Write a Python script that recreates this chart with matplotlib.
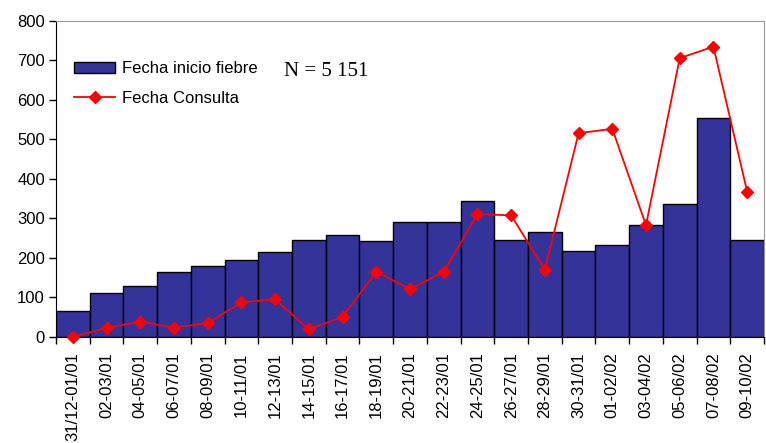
import matplotlib
matplotlib.use("Agg")
import matplotlib.pyplot as plt
import numpy as np

plt.rcParams['font.family'] = ['Liberation Sans', 'DejaVu Sans']

# periods (two-day groups)
periods = ['31/12-01/01', '02-03/01', '04-05/01', '06-07/01', '08-09/01',
           '10-11/01', '12-13/01', '14-15/01', '16-17/01', '18-19/01',
           '20-21/01', '22-23/01', '24-25/01', '26-27/01', '28-29/01',
           '30-31/01', '01-02/02', '03-04/02', '05-06/02', '07-08/02',
           '09-10/02']

# cases by date of fever onset
inicio_fiebre = [67, 112, 128, 165, 180, 194, 214, 246, 259, 242,
                 290, 290, 344, 246, 267, 218, 234, 283, 336, 555, 246]

# cases by date of consultation
consulta = [0, 23, 39, 24, 35, 88, 95, 19, 51, 165,
            121, 165, 311, 308, 170, 516, 527, 283, 706, 735, 368]

fig = plt.figure(figsize=(7.66, 4.43), dpi=100)
ax = fig.add_axes([0.0731, 0.2393, 0.9243, 0.7133])

x = np.arange(len(periods))
bars = ax.bar(x, inicio_fiebre, width=1.0, color='#333399', edgecolor='black',
              linewidth=1.0, label='Fecha inicio fiebre', zorder=2)
line, = ax.plot(x, consulta, color='red', marker='D', markersize=6,
                linewidth=1.3, label='Fecha Consulta', zorder=3, clip_on=False)

ax.set_xlim(-0.5, len(periods) - 0.5)
ax.set_ylim(0, 800)
ax.set_yticks(range(0, 801, 100))
ax.tick_params(axis='y', labelsize=12, length=5, width=1, direction='out', pad=3)

# labels at bar centres, tick marks at bar edges
ax.set_xticks(x)
ax.set_xticklabels(periods, rotation=90, fontsize=12)
ax.set_xticks(np.arange(-0.5, len(periods)), minor=True)
ax.tick_params(axis='x', which='major', length=0, pad=11)
ax.tick_params(axis='x', which='minor', length=5, width=1, direction='out')

for side in ['top', 'right']:
    ax.spines[side].set_color('#999999')
for side in ['left', 'bottom']:
    ax.spines[side].set_color('black')

ax.legend([bars, line], ['Fecha inicio fiebre', 'Fecha Consulta'],
          loc='upper left', bbox_to_anchor=(0.025, 0.872), frameon=False,
          fontsize=12, borderpad=0, borderaxespad=0, handlelength=2.5,
          handletextpad=0.4, labelspacing=0.85)

ax.text(0.322, 0.84, 'N = 5 151', transform=ax.transAxes, fontsize=15,
        family='Liberation Serif', va='center', ha='left')

fig.savefig('out.png', dpi=100)
